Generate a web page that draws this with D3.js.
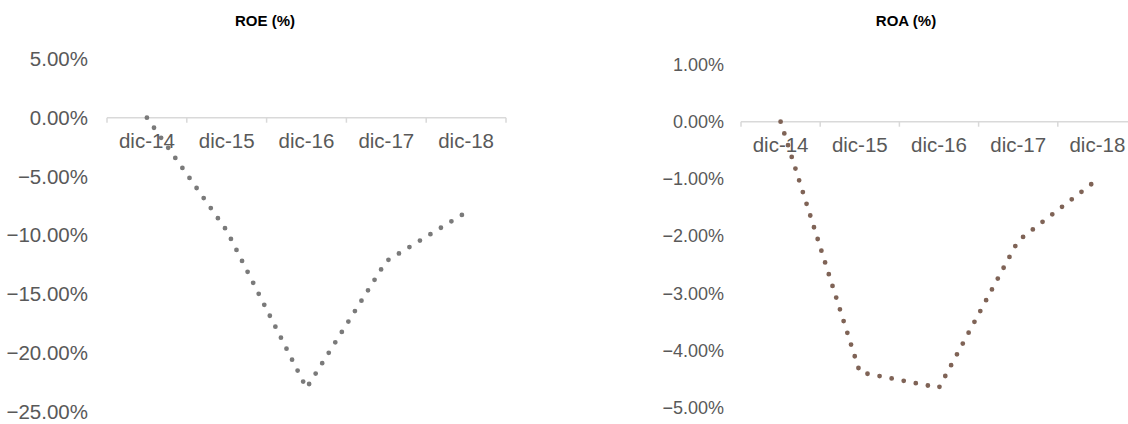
<!DOCTYPE html>
<html>
<head>
<meta charset="utf-8">
<script src="https://cdn.jsdelivr.net/npm/d3@7"></script>
<style>
  html, body { margin: 0; padding: 0; background: #fff; }
  svg { display: block; font-family: "Liberation Sans", Arial, sans-serif; }
</style>
</head>
<body>
<div id="chart"></div>
<script>
// data
const categories = ['dic-14', 'dic-15', 'dic-16', 'dic-17', 'dic-18']
const roeValues = [0, -9.6, -23.0, -12.2, -8.05]
const roaValues = [0, -4.38, -4.65, -2.08, -1.01]
const roeTicks = [5, 0, -5, -10, -15, -20, -25]
const roaTicks = [1, 0, -1, -2, -3, -4, -5]

const svg = d3.select('#chart').append('svg')
            .attr('width', 1128)
            .attr('height', 424)

const fmt = v => d3.format('.2f')(v) + '%'

function drawPanel(opts) {
  const g = svg.append('g')

  const x = d3.scaleBand()
      .domain(categories)
      .range(opts.xRange)
      .padding(0)

  const y = d3.scaleLinear()
      .domain(d3.extent(opts.ticks))
      .range(opts.yRange)

  // title
  g.append('text')
      .attr('x', opts.titleX)
      .attr('y', 26)
      .attr('text-anchor', 'middle')
      .attr('font-size', 15)
      .attr('font-weight', 'bold')
      .attr('fill', '#000')
      .text(opts.title)

  // y tick labels (no axis line, no gridlines)
  g.selectAll('.ylab')
    .data(opts.ticks)
    .enter().append('text')
      .attr('class', 'ylab')
      .attr('x', opts.yLabelX)
      .attr('y', d => y(d))
      .attr('dy', '0.35em')
      .attr('text-anchor', 'end')
      .attr('font-size', opts.yFont)
      .attr('fill', '#595959')
      .text(fmt)

  // category axis at zero
  const y0 = y(0)
  const [x0, x1] = x.range()
  g.append('line')
      .attr('x1', x0).attr('x2', x1)
      .attr('y1', y0).attr('y2', y0)
      .attr('stroke', '#d9d9d9')
      .attr('stroke-width', 1.5)

  const edges = categories.map(c => x(c)).concat([x1])
  g.selectAll('.tick')
    .data(edges)
    .enter().append('line')
      .attr('x1', d => d).attr('x2', d => d)
      .attr('y1', y0).attr('y2', y0 + 5)
      .attr('stroke', '#d9d9d9')
      .attr('stroke-width', 1.5)

  g.selectAll('.xlab')
    .data(categories)
    .enter().append('text')
      .attr('x', d => x(d) + x.bandwidth() / 2)
      .attr('y', y0 + 30.5)
      .attr('text-anchor', 'middle')
      .attr('font-size', 20.5)
      .attr('fill', '#595959')
      .text(d => d)

  // dotted series line
  const line = d3.line()
      .x((d, i) => x(categories[i]) + x.bandwidth() / 2)
      .y(d => y(d))

  g.append('path')
      .datum(opts.values)
      .attr('d', line)
      .attr('fill', 'none')
      .attr('stroke', opts.color)
      .attr('stroke-width', 4.8)
      .attr('stroke-linecap', 'round')
      .attr('stroke-dasharray', '0 12.3')
}

drawPanel({
  title: 'ROE (%)',
  titleX: 265,
  values: roeValues,
  ticks: roeTicks,
  xRange: [107, 506],
  yRange: [411.7, 58.9],
  yLabelX: 88,
  yFont: 20.5,
  color: '#7a7a7a'
})

drawPanel({
  title: 'ROA (%)',
  titleX: 906,
  values: roaValues,
  ticks: roaTicks,
  xRange: [741, 1137],
  yRange: [407.7, 64.5],
  yLabelX: 724,
  yFont: 18,
  color: '#7f6356'
})
</script>
</body>
</html>
